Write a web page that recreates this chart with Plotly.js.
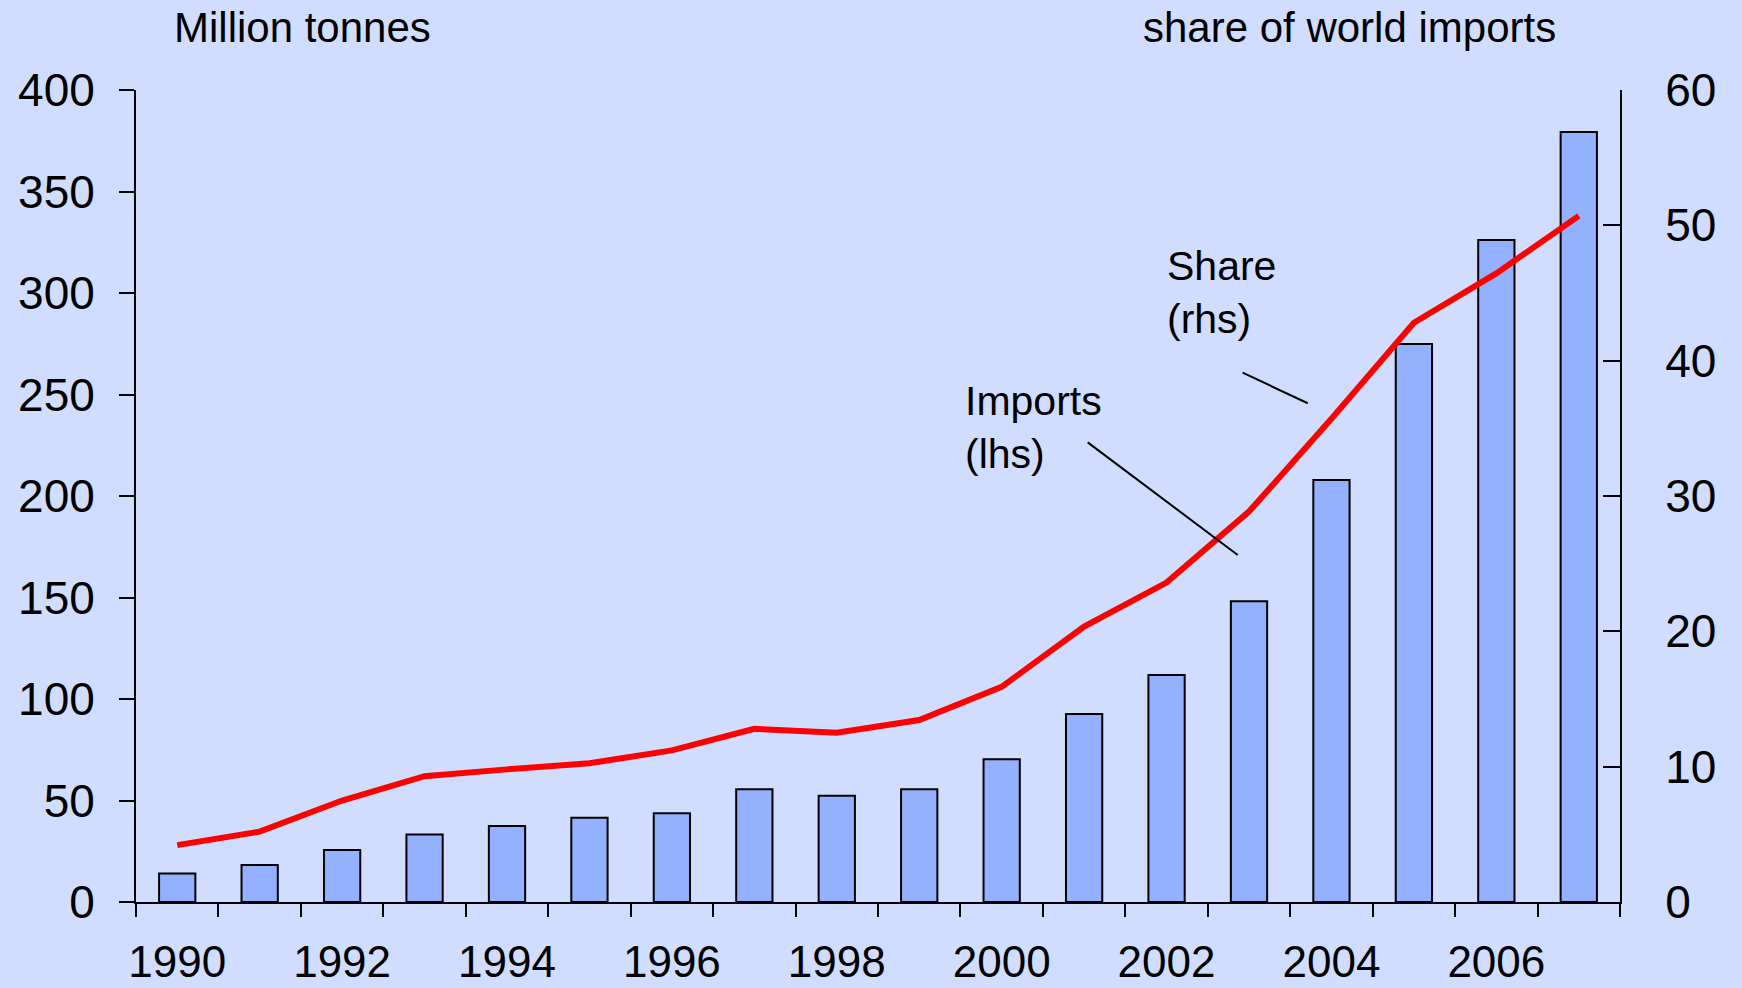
<!DOCTYPE html>
<html>
<head>
<meta charset="utf-8">
<script src="https://cdn.plot.ly/plotly-3.0.1.min.js"></script>
<style>html,body{margin:0;padding:0;background:#d1ddfe;}#chart{width:1742px;height:988px;}</style>
</head>
<body>
<div id="chart"></div>
<script>
// Data
const years = ['1990','1991','1992','1993','1994','1995','1996','1997','1998','1999','2000','2001','2002','2003','2004','2005','2006','2007'];
const yearLabels = ['1990','','1992','','1994','','1996','','1998','','2000','','2002','','2004','','2006',''];
const importsMt = [14.1, 18.2, 25.6, 33.2, 37.4, 41.5, 43.7, 55.5, 52.3, 55.5, 70.3, 92.6, 111.8, 148.1, 207.9, 274.9, 326.1, 379.3];
const sharePct = [4.2, 5.2, 7.5, 9.3, 9.8, 10.25, 11.2, 12.8, 12.5, 13.45, 15.9, 20.35, 23.6, 28.85, 35.7, 42.8, 46.45, 50.7];
const leftTitle = 'Million tonnes';
const rightTitle = 'share of world imports';
const importsLabel = 'Imports<br>(lhs)';
const shareLabel = 'Share<br>(rhs)';

const FONT = 'Liberation Sans, Arial, sans-serif';
const BG = '#d1ddfe';

const traces = [
  {
    type: 'bar', x: years, y: importsMt, yaxis: 'y', name: 'Imports',
    marker: {color: '#93b1ff', line: {color: '#000000', width: 2}},
    hoverinfo: 'x+y'
  },
  {
    type: 'scatter', mode: 'lines', x: years, y: sharePct, yaxis: 'y2', name: 'Share',
    line: {color: '#ff0000', width: 6}
  }
];

const layout = {
  width: 1742, height: 988,
  paper_bgcolor: BG, plot_bgcolor: BG,
  margin: {l: 136, r: 122, t: 90, b: 86},
  showlegend: false,
  bargap: 0.56,
  font: {family: FONT, color: '#000000'},
  xaxis: {
    type: 'category',
    tickmode: 'array', tickvals: years, ticktext: yearLabels,
    tickson: 'boundaries',
    ticks: 'outside', ticklen: 13, tickwidth: 2, tickcolor: '#000',
    showline: true, linewidth: 2, linecolor: '#000',
    showgrid: false, zeroline: false,
    tickfont: {family: FONT, size: 44, color: '#000'},
    ticklabelstandoff: 20,
    tickangle: 0
  },
  yaxis: {
    range: [0, 400], dtick: 50, tick0: 0,
    ticks: 'outside', ticklen: 15, tickwidth: 2, tickcolor: '#000',
    showline: true, linewidth: 2, linecolor: '#000',
    showgrid: false, zeroline: false,
    tickfont: {family: FONT, size: 46, color: '#000'},
    ticklabelstandoff: 15
  },
  yaxis2: {
    range: [0, 60], dtick: 10, tick0: 0,
    overlaying: 'y', side: 'right',
    ticks: 'inside', ticklen: 17, tickwidth: 2, tickcolor: '#000',
    showline: true, linewidth: 2, linecolor: '#000',
    showgrid: false, zeroline: false,
    tickfont: {family: FONT, size: 46, color: '#000'},
    ticklabelstandoff: 34
  },
  annotations: [
    {text: leftTitle, xref: 'paper', yref: 'paper', x: 0.1119, y: 1.0764, xanchor: 'center', yanchor: 'middle', showarrow: false, font: {family: FONT, size: 42, color: '#000'}},
    {text: rightTitle, xref: 'paper', yref: 'paper', x: 0.8178, y: 1.0764, xanchor: 'center', yanchor: 'middle', showarrow: false, font: {family: FONT, size: 42, color: '#000'}},
    {text: shareLabel, xref: 'paper', yref: 'paper', x: 0.6935, y: 0.8135, xanchor: 'left', yanchor: 'top', align: 'left', showarrow: false, font: {family: FONT, size: 41, color: '#000'}},
    {text: importsLabel, xref: 'paper', yref: 'paper', x: 0.5574, y: 0.6478, xanchor: 'left', yanchor: 'top', align: 'left', showarrow: false, font: {family: FONT, size: 41, color: '#000'}}
  ],
  shapes: [
    {type: 'line', xref: 'paper', yref: 'paper', x0: 0.7457, y0: 0.6519, x1: 0.7896, y1: 0.6142, line: {color: '#000', width: 2}},
    {type: 'line', xref: 'paper', yref: 'paper', x0: 0.6413, y0: 0.5661, x1: 0.7424, y1: 0.4273, line: {color: '#000', width: 2}}
  ]
};

Plotly.newPlot('chart', traces, layout, {displayModeBar: false, staticPlot: true});
</script>
</body>
</html>
